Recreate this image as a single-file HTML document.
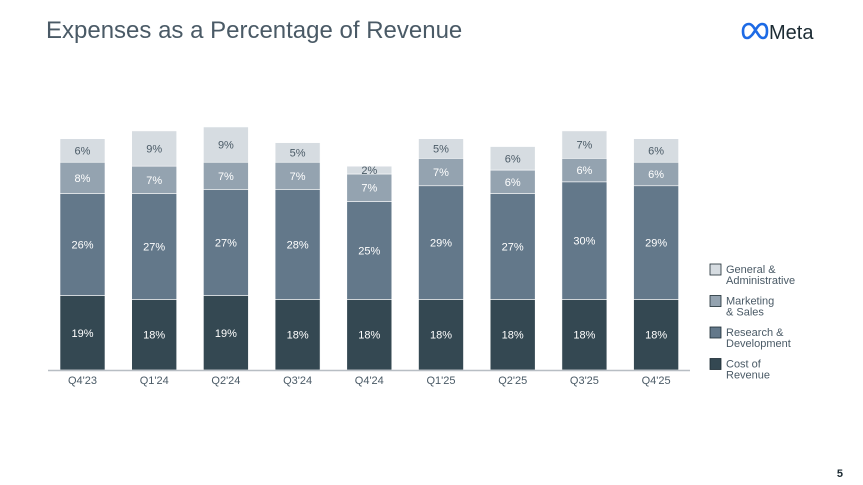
<!DOCTYPE html>
<html><head><meta charset="utf-8"><style>
body{margin:0;background:#fff;font-family:"Liberation Sans",sans-serif;}
#wrap{position:relative;width:863px;height:485px;overflow:hidden;}
</style></head><body>
<div id="wrap">
<svg width="863" height="485">
<text x="46" y="38" font-size="24" fill="#4a5a66">Expenses as a Percentage of Revenue</text>
<g>
<path d="M747,38 C744,38 743,35 743,31 C743,26 746,24 749,24 C753,24 755,30 758,34 C760,37 761,38 763,38 C766,38 767,35 767,31 C767,26 765,24 762,24 C758,24 756,30 752,35 C750,37 749,38 747,38" fill="none" stroke="#1d6ae5" stroke-width="2.6"/>
<text x="769" y="39" font-size="20" fill="#1c2b33">Meta</text>
</g>
<g id="bars"></g>
<line x1="48" y1="370.5" x2="690" y2="370.5" stroke="#b8bec4" stroke-width="1.5"/>
<g id="legend"></g>
<text x="843" y="477" font-size="11" font-weight="bold" fill="#1c2b33" text-anchor="end">5</text>
</svg>
</div>
<script>
const categories=["Q4'23","Q1'24","Q2'24","Q3'24","Q4'24","Q1'25","Q2'25","Q3'25","Q4'25"];
const costOfRevenue=[19,18,19,18,18,18,18,18,18];
const researchDev=[26,27,27,28,25,29,27,30,29];
const marketingSales=[8,7,7,7,7,7,6,6,6];
const generalAdmin=[6,9,9,5,2,5,6,7,6];
const seriesNames=["Cost of Revenue","Research & Development","Marketing & Sales","General & Administrative"];
const series=[costOfRevenue,researchDev,marketingSales,generalAdmin];
const colors=["#344852","#63788a","#94a3b0","#d6dce1"];
const textColors=["#fff","#fff","#fff","#4a5a66"];
const NS="http://www.w3.org/2000/svg";
const base=370, pxPer=3.92, x0=60, step=71.7, bw=45;
function yScale(v){return v*pxPer;}
function xScale(i){return x0+i*step;}
const g=document.getElementById('bars');
categories.forEach((c,i)=>{
  let y=base;
  series.forEach((s,k)=>{
    const h=yScale(s[i]);
    y-=h;
    const r=document.createElementNS(NS,'rect');
    r.setAttribute('x',xScale(i));r.setAttribute('y',y);r.setAttribute('width',bw);r.setAttribute('height',h);
    r.setAttribute('fill',colors[k]);r.setAttribute('stroke','#fff');r.setAttribute('stroke-width','0.6');
    
    
    g.appendChild(r);
    const t=document.createElementNS(NS,'text');
    t.setAttribute('x',xScale(i)+bw/2);t.setAttribute('y',y+h/2+4);
    t.setAttribute('text-anchor','middle');t.setAttribute('font-size','11');t.setAttribute('fill',textColors[k]);
    t.textContent=s[i]+'%';
    
    
    g.appendChild(t);
  });
  const t=document.createElementNS(NS,'text');
  t.setAttribute('x',xScale(i)+bw/2);t.setAttribute('y',384);
  t.setAttribute('text-anchor','middle');t.setAttribute('font-size','11');t.setAttribute('fill','#4a5a66');
  t.textContent=c;
  
  
  g.appendChild(t);
});
const lg=document.getElementById('legend');
const legendLines=[["General &","Administrative"],["Marketing","& Sales"],["Research &","Development"],["Cost of","Revenue"]];
const legendColors=[colors[3],colors[2],colors[1],colors[0]];
legendLines.forEach((ls,j)=>{
  const y=264+j*31.5;
  const r=document.createElementNS(NS,'rect');
  r.setAttribute('x',710);r.setAttribute('y',y);r.setAttribute('width',11);r.setAttribute('height',11);
  r.setAttribute('fill',legendColors[j]);r.setAttribute('stroke','#1c2b33');r.setAttribute('stroke-width','0.8');
  
  
  lg.appendChild(r);
  ls.forEach((l,m)=>{
    const t=document.createElementNS(NS,'text');
    t.setAttribute('x',726);t.setAttribute('y',y+9+m*11);t.setAttribute('font-size','11');t.setAttribute('fill','#4a5a66');
    t.textContent=l;
    
    
    lg.appendChild(t);
  });
});
</script>
</body></html>
